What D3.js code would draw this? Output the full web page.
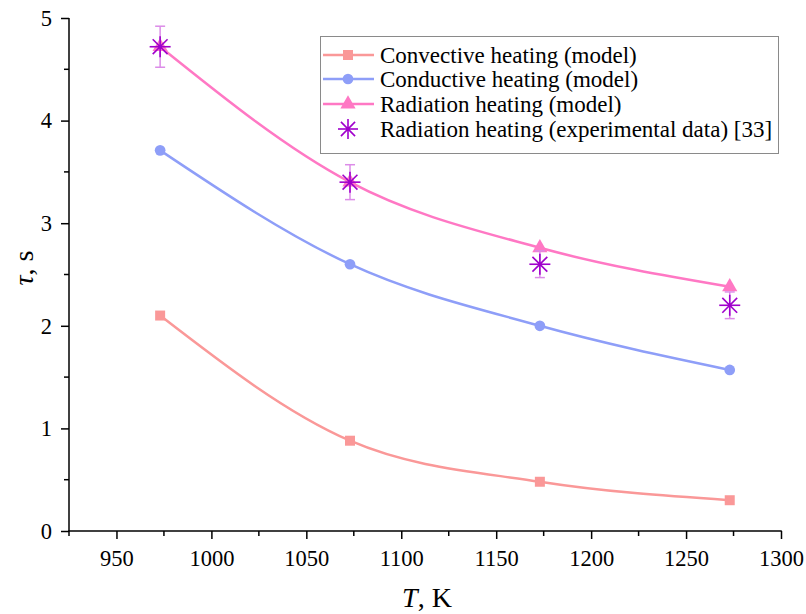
<!DOCTYPE html>
<html>
<head>
<meta charset="utf-8">
<script src="https://cdn.jsdelivr.net/npm/d3@7"></script>
<style>
  body { margin: 0; background: #fff; }
  svg text { font-family: "Liberation Serif", "Times New Roman", serif; fill: #000; }
</style>
</head>
<body>
<div id="container"></div>
<script>
// ---------------- data ----------------
const temps = [973, 1073, 1173, 1273];
const convective = [2.10, 0.88, 0.48, 0.30];
const conductive = [3.71, 2.60, 2.00, 1.57];
const radiation = [4.72, 3.40, 2.76, 2.38];
const experimental = [4.72, 3.40, 2.60, 2.20];
const experimentalErr = [0.20, 0.17, 0.13, 0.13];
const xTicks = [950, 1000, 1050, 1100, 1150, 1200, 1250, 1300];
const yTicks = [0, 1, 2, 3, 4, 5];
const legendLabels = [
  "Convective heating (model)",
  "Conductive heating (model)",
  "Radiation heating (model)",
  "Radiation heating (experimental data) [33]"
];

// ---------------- setup ----------------
const width = 806;
const height = 614;
const margin = { left: 69, right: 25, top: 18, bottom: 83 };

const svg = d3.select("#container").append("svg")
  .attr("width", width)
  .attr("height", height);

const xScale = d3.scaleLinear().domain([925, 1300]).range([margin.left, 781]);
const yScale = d3.scaleLinear().domain([0, 5]).range([531, margin.top]);

const colors = {
  convective: "#fa9898",
  conductive: "#8e9ef8",
  radiation: "#ff78c4",
  star: "#a000cc",
  err: "#dc8ce8"
};

// ---------------- axes ----------------
const xMinor = d3.range(925, 1301, 25).filter(v => v % 50 !== 0);
const yMinor = d3.range(0.5, 5, 1);

const xAxis = d3.axisBottom(xScale).tickValues(xTicks).tickSize(8).tickPadding(11)
  .tickFormat(d3.format("d"));
const yAxis = d3.axisLeft(yScale).tickValues(yTicks).tickSize(8).tickPadding(9)
  .tickFormat(d3.format("d"));

const gx = svg.append("g")
  .attr("transform", "translate(0," + yScale(0) + ")")
  .call(xAxis);
gx.append("g").selectAll("line").data(xMinor).enter().append("line")
  .attr("x1", d => xScale(d)).attr("x2", d => xScale(d))
  .attr("y1", 0).attr("y2", 5).attr("stroke", "#000").attr("stroke-width", 1.5);

const gy = svg.append("g")
  .attr("transform", "translate(" + xScale(925) + ",0)")
  .call(yAxis);
gy.append("g").selectAll("line").data(yMinor).enter().append("line")
  .attr("y1", d => yScale(d)).attr("y2", d => yScale(d))
  .attr("x1", 0).attr("x2", -5).attr("stroke", "#000").attr("stroke-width", 1.5);

[gx, gy].forEach(g => {
  g.select(".domain").remove();
  g.selectAll(".tick line").attr("stroke-width", 1.5);
  g.selectAll(".tick text").style("font-size", "22.5px");
});
svg.append("line")
  .attr("x1", xScale(925) - 0.75).attr("x2", xScale(1300) + 0.75)
  .attr("y1", yScale(0)).attr("y2", yScale(0))
  .attr("stroke", "#000").attr("stroke-width", 1.5);
svg.append("line")
  .attr("x1", xScale(925)).attr("x2", xScale(925))
  .attr("y1", yScale(0)).attr("y2", yScale(5))
  .attr("stroke", "#000").attr("stroke-width", 1.5);

// axis titles
const xt = svg.append("text")
  .attr("x", 427).attr("y", 607)
  .attr("text-anchor", "middle")
  .style("font-size", "28px");
xt.append("tspan").style("font-style", "italic").text("T");
xt.append("tspan").text(", K");

const yt = svg.append("text")
  .attr("transform", "translate(33,268) rotate(-90)")
  .attr("text-anchor", "middle")
  .style("font-size", "28px");
yt.append("tspan").style("font-style", "italic").text("τ");
yt.append("tspan").text(", s");

// ---------------- lines ----------------
const line = d3.line()
  .x((d, i) => xScale(temps[i]))
  .y(d => yScale(d))
  .curve(d3.curveMonotoneX);

const series = [
  { values: convective, color: colors.convective, shape: "square" },
  { values: conductive, color: colors.conductive, shape: "circle" },
  { values: radiation, color: colors.radiation, shape: "triangle" }
];

const symbolFor = {
  square: d3.symbol().type(d3.symbolSquare).size(100),
  circle: d3.symbol().type(d3.symbolCircle).size(90),
  triangle: d3.symbol().type(d3.symbolTriangle).size(100)
};

series.forEach(s => {
  svg.append("path")
    .attr("d", line(s.values))
    .attr("fill", "none")
    .attr("stroke", s.color)
    .attr("stroke-width", 2.5);
});
series.forEach(s => {
  svg.append("g").selectAll("path").data(s.values).enter().append("path")
    .attr("d", symbolFor[s.shape])
    .attr("transform", (d, i) => "translate(" + xScale(temps[i]) + "," + yScale(d) + ")")
    .attr("fill", s.color);
});

// ---------------- experimental ----------------
const expG = svg.append("g");
experimental.forEach((v, i) => {
  const cx = xScale(temps[i]);
  const top = yScale(v + experimentalErr[i]);
  const bot = yScale(v - experimentalErr[i]);
  expG.append("line").attr("x1", cx).attr("x2", cx).attr("y1", top).attr("y2", bot)
    .attr("stroke", colors.err).attr("stroke-width", 1.5);
  [top, bot].forEach(yy => {
    expG.append("line").attr("x1", cx - 5).attr("x2", cx + 5).attr("y1", yy).attr("y2", yy)
      .attr("stroke", colors.err).attr("stroke-width", 1.5);
  });
});

function star(g, cx, cy, r) {
  const d = r * Math.SQRT1_2;
  const segs = [[-r, 0, r, 0], [0, -r, 0, r], [-d, -d, d, d], [-d, d, d, -d]];
  segs.forEach(s => {
    g.append("line")
      .attr("x1", cx + s[0]).attr("y1", cy + s[1])
      .attr("x2", cx + s[2]).attr("y2", cy + s[3])
      .attr("stroke", colors.star).attr("stroke-width", 1.6);
  });
  g.append("circle").attr("cx", cx).attr("cy", cy).attr("r", 2).attr("fill", colors.star);
}
experimental.forEach((v, i) => star(expG, xScale(temps[i]), yScale(v), 10.5));

// ---------------- legend ----------------
const leg = svg.append("g");
leg.append("rect")
  .attr("x", 320.5).attr("y", 36.5).attr("width", 458).attr("height", 117)
  .attr("fill", "#fff").attr("stroke", "#8a8a8a").attr("stroke-width", 1);

const rowY = [55, 79, 104, 129];
legendLabels.forEach((lab, i) => {
  const y = rowY[i];
  if (i < 3) {
    leg.append("line").attr("x1", 323).attr("x2", 374).attr("y1", y).attr("y2", y)
      .attr("stroke", series[i].color).attr("stroke-width", 2.5);
    leg.append("path").attr("d", symbolFor[series[i].shape])
      .attr("transform", "translate(348," + y + ")")
      .attr("fill", series[i].color);
  } else {
    star(leg, 348, y, 10);
  }
  leg.append("text").attr("x", 380).attr("y", y + 8)
    .style("font-size", "23px").text(lab);
});
</script>
</body>
</html>
